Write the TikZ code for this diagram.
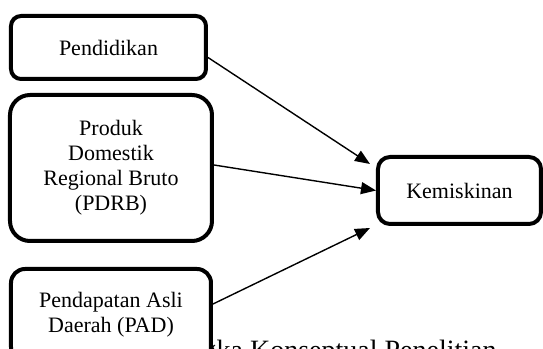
\documentclass[tikz,border=0pt]{standalone}
\usepackage{fontspec}
\setmainfont{Liberation Serif}
\usetikzlibrary{arrows.meta}
\begin{document}
\begin{tikzpicture}
    \def\dx{0.5pt}
    \def\dy{0.5pt}

    \useasboundingbox (0,0) rectangle (543*\dx,349*\dy);

    \tikzstyle{var}=[draw=black,line width=2pt,fill=white,align=center,inner sep=0pt,font=\fontsize{11}{12.5}\selectfont]
    \tikzstyle{capt}=[anchor=base east,inner sep=0pt,font=\fontsize{14}{16}\selectfont]

    \node[capt]  (judul) at (497*\dx,-11*\dy) {Kerangka Konseptual Penelitian};
    \node[var,rounded corners=5pt,minimum width=195*\dx,minimum height=63*\dy]  (pend) at (108.5*\dx,301.5*\dy) {Pendidikan};
    \node[var,rounded corners=10pt,minimum width=202*\dx,minimum height=146*\dy]  (pdrb) at (111*\dx,181*\dy) {Produk\\Domestik\\Regional Bruto\\(PDRB)};
    \node[var,rounded corners=7pt,minimum width=200*\dx,minimum height=92*\dy]  (pad) at (111*\dx,34*\dy) {Pendapatan Asli\\Daerah (PAD)};
    \node[var,rounded corners=6pt,minimum width=163*\dx,minimum height=67*\dy]  (kem) at (459.5*\dx,158.5*\dy) {Kemiskinan};


    \pgfsetarrowsend{Triangle[length=7.5pt,width=6pt]}
    \tikzstyle{link} = [draw=black, line width=0.7pt]

          \draw [link] ([yshift=-5pt]pend.east) -- ([xshift=-3pt,yshift=-4.5pt]kem.north west);
          \draw [link] ([yshift=1.5pt]pdrb.east) -- (kem.west);
          \draw [link] ([yshift=5.5pt]pad.east) -- ([xshift=-3pt,yshift=-1pt]kem.south west);
  \end{tikzpicture}
\end{document}
